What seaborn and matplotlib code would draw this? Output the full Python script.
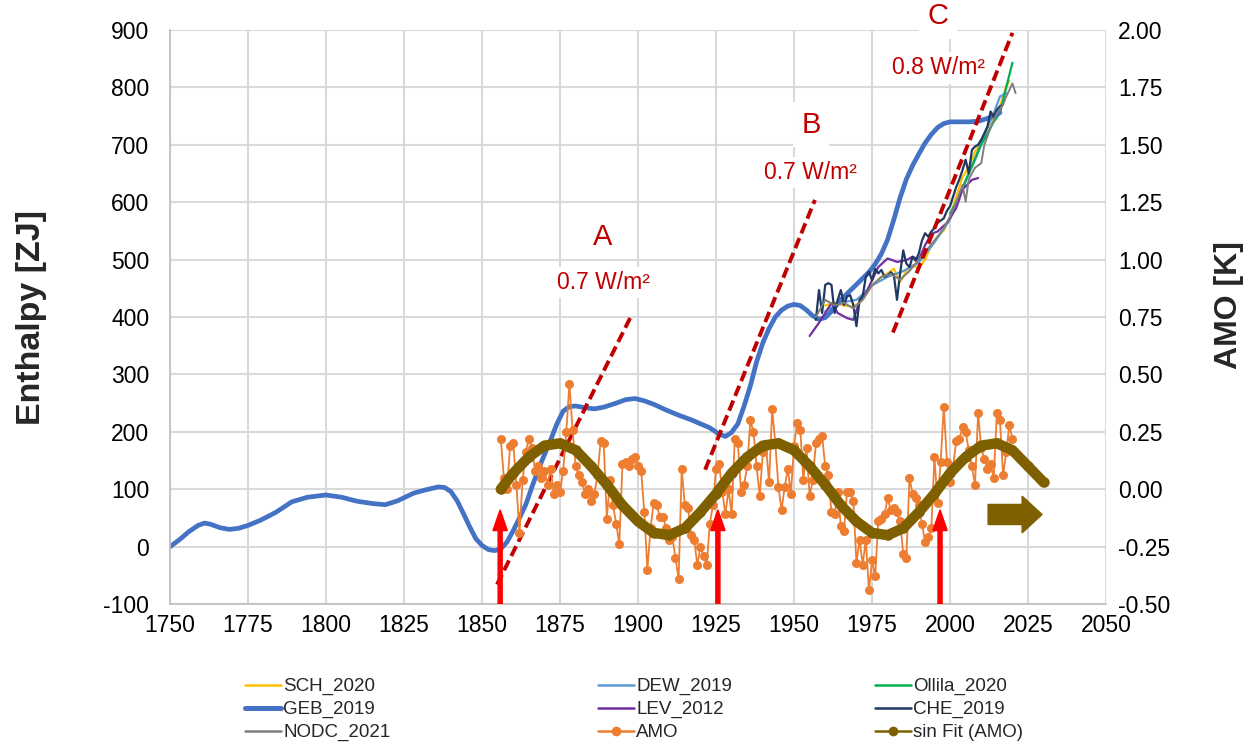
import numpy as np
import matplotlib
matplotlib.use("Agg")
import matplotlib.pyplot as plt
from matplotlib.lines import Line2D
from matplotlib.patches import FancyArrow
import seaborn as sns

# ---- data ----
GEB_YEAR = [1750, 1753, 1756, 1759, 1761, 1763, 1766, 1769, 1772, 1775, 1779, 1784, 1789,
            1794, 1800, 1805, 1810, 1815, 1819, 1823, 1828, 1832, 1836, 1838, 1840, 1842,
            1844, 1846, 1848, 1850, 1852, 1854, 1856, 1858, 1860, 1862, 1864, 1866, 1868,
            1870, 1872, 1874, 1876, 1878, 1880, 1883, 1886, 1889, 1893, 1896, 1899, 1902,
            1905, 1909, 1913, 1917, 1920, 1923, 1926, 1928, 1930, 1932, 1934, 1936, 1938,
            1940, 1942, 1944, 1946, 1948, 1950, 1952, 1954, 1956, 1958, 1960, 1962, 1965,
            1968, 1971, 1974, 1976, 1978, 1980, 1982, 1984, 1986, 1988, 1990, 1992, 1994,
            1996, 1998, 2000, 2003, 2006, 2009, 2012, 2014, 2016]
GEB_ZJ = [0, 12, 26, 37, 41, 39, 33, 30, 32, 37, 46, 60, 78,
          86, 90, 86, 79, 75, 73, 80, 93, 99, 104, 103, 96, 80,
          58, 35, 14, 2, -5, -7, -4, 8, 28, 50, 73, 104, 134,
          160, 186, 214, 236, 244, 245, 242, 240, 243, 250, 256, 258, 254,
          248, 238, 229, 221, 214, 207, 196, 192, 199, 214, 245, 280, 322,
          355, 380, 400, 412, 419, 422, 420, 412, 402, 396, 399, 410, 430,
          446, 462, 478, 492, 510, 535, 570, 608, 640, 664, 684, 703, 718,
          730, 737, 740, 740, 740, 741, 746, 750, 756]

SCH_YEAR = [1960, 1963, 1966, 1969, 1972, 1975, 1978, 1980, 1982, 1984, 1986, 1988, 1990,
            1992, 1994, 1996, 1998, 2000, 2002, 2004, 2006, 2008, 2010, 2012, 2014, 2016,
            2018, 2019]
SCH_ZJ = [420, 425, 420, 418, 430, 455, 470, 476, 484, 461, 480, 490, 485, 500, 525, 540,
          551, 575, 610, 644, 660, 688, 705, 730, 750, 767, 802, 811]

DEW_YEAR = [1960, 1965, 1970, 1975, 1980, 1985, 1990, 1995, 2000, 2003, 2006, 2009, 2012,
            2014, 2016, 2018]
DEW_ZJ = [410, 425, 430, 455, 470, 480, 495, 530, 570, 610, 650, 690, 730, 755, 784, 790]

OLLILA_YEAR = [2000, 2002, 2004, 2006, 2008, 2010, 2012, 2014, 2016, 2018, 2020]
OLLILA_ZJ = [580, 600, 625, 650, 674, 700, 720, 740, 755, 800, 843]

LEV_YEAR = [1955, 1958, 1960, 1962, 1964, 1967, 1969, 1971, 1973, 1975, 1977, 1980, 1983,
            1986, 1988, 1990, 1992, 1994, 1996, 1999, 2002, 2004, 2007, 2009]
LEV_ZJ = [367, 390, 407, 424, 407, 398, 395, 427, 441, 464, 487, 502, 496, 499, 505, 500,
          525, 545, 549, 564, 590, 622, 639, 642]

CHE_YEAR = list(range(1957, 2018))
CHE_ZJ = [395, 447, 407,
          456, 459, 456, 407, 430, 447, 421, 436, 438, 421,
          384, 430, 436, 470, 479, 464, 484, 476, 482, 470,
          473, 478, 473, 430, 476, 516, 493, 487, 505, 498,
          511, 533, 546, 540, 549, 555, 564, 568, 572, 585,
          593, 610, 627, 640, 656, 674, 650, 691, 697, 700,
          709, 720, 732, 758, 749, 761, 767, 770]

NODC_YEAR = [1957, 1960, 1963, 1966, 1969, 1972, 1975, 1978, 1981, 1984, 1987, 1990, 1993,
             1996, 1998, 2000, 2002, 2004, 2005, 2006, 2008, 2010, 2011, 2013, 2015, 2017,
             2018, 2019, 2020, 2021]
NODC_ZJ = [400, 430, 420, 425, 415, 430, 455, 470, 475, 465, 480, 500, 520, 540, 555, 575,
           600, 630, 601, 640, 660, 668, 700, 730, 755, 770, 784, 795, 807, 790]

AMO_YEAR = list(range(1856, 2021))
AMO_K = [0.22, 0.05, 0.00, 0.19,
         0.20, 0.02, -0.19, 0.04, 0.16, 0.22, 0.18, 0.08, 0.10, 0.05,
         0.08, 0.02, 0.09, -0.02, 0.02, -0.01, 0.08, 0.25, 0.46, 0.26,
         0.10, 0.06, 0.03, -0.02, 0.00, -0.05, -0.02, 0.06, 0.21, 0.20,
         -0.13, 0.04, -0.07, -0.15, -0.24, 0.11, 0.12, 0.10, 0.13, 0.14,
         0.10, 0.08, -0.10, -0.35, -0.17, -0.06, -0.07, -0.12, -0.12, -0.17,
         -0.22, -0.21, -0.30, -0.39, 0.09, -0.07, -0.08, -0.20, -0.22, -0.33,
         -0.25, -0.29, -0.33, -0.15, -0.07, 0.09, 0.11, -0.01, -0.11, 0.00,
         -0.11, 0.22, 0.20, -0.01, 0.02, 0.10, 0.30, 0.25, 0.10, -0.03,
         0.16, 0.19, 0.03, 0.35, 0.20, 0.01, -0.09, 0.01, 0.09, -0.02,
         0.19, 0.29, 0.26, 0.04, 0.18, -0.03, 0.04, 0.20, 0.22, 0.23,
         0.10, 0.06, -0.10, -0.11, -0.01, -0.16, -0.18, -0.01, -0.01, -0.05,
         -0.32, -0.22, -0.33, -0.22, -0.44, -0.31, -0.38, -0.14, -0.13, -0.11,
         -0.04, -0.09, -0.08, -0.10, -0.14, -0.28, -0.30, 0.05, -0.02, -0.04,
         -0.07, -0.15, -0.23, -0.21, -0.17, 0.14, -0.06, 0.12, 0.36, 0.12,
         0.03, 0.10, 0.21, 0.22, 0.27, 0.25, 0.17, 0.10, 0.02, 0.33,
         0.18, 0.13, 0.09, 0.11, 0.05, 0.33, 0.30, 0.06, 0.16, 0.28, 0.22]

SIN_YEAR = [1856, 1860, 1865, 1870, 1875, 1880, 1885, 1890, 1895, 1900, 1905, 1910, 1915,
            1920, 1925, 1930, 1935, 1940, 1945, 1950, 1955, 1960, 1965, 1970, 1975, 1980,
            1985, 1990, 1995, 2000, 2005, 2010, 2015, 2020, 2025, 2030]
SIN_K = [0.00, 0.07, 0.14, 0.19, 0.20, 0.17, 0.10, 0.02, -0.07, -0.14, -0.19, -0.20,
         -0.17, -0.10, -0.02, 0.07, 0.14, 0.19, 0.20, 0.17, 0.10, 0.02, -0.07, -0.14,
         -0.19, -0.20, -0.17, -0.10, -0.02, 0.07, 0.14, 0.19, 0.20, 0.17, 0.10, 0.03]

# heating-rate trend lines (start / end)
TREND_A = ([1854.8, 1898.0], [-66, 404])
TREND_B = ([1921.5, 1956.7], [134, 604])
TREND_C = ([1981.7, 2020.0], [373, 895])
TREND_LABELS = [("A", "0.7 W/m²", 1888.8, 540, 460),
                ("B", "0.7 W/m²", 1955.4, 735, 652),
                ("C", "0.8 W/m²", 1996.2, 924, 834)]
ARROW_YEARS = [1855.8, 1925.6, 1996.8]

DARK_RED = "#C00000"
SIN_COL = "#7F6000"
AMO_COL = "#ED7D31"

sns.set_theme(style="white")
plt.rcParams["font.family"] = ["Liberation Sans", "DejaVu Sans"]
plt.rcParams["axes.unicode_minus"] = False

fig = plt.figure(figsize=(12.55, 7.46), dpi=100)
ax = fig.add_axes([0.1355, 0.1903, 0.7458, 0.7695])
ax2 = ax.twinx()

# enthalpy series (left axis)
series = [
    (SCH_YEAR, SCH_ZJ, "#FFC000", 1.6),
    (DEW_YEAR, DEW_ZJ, "#5B9BD5", 1.6),
    (OLLILA_YEAR, OLLILA_ZJ, "#00B050", 1.6),
    (GEB_YEAR, GEB_ZJ, "#4472C4", 3.4),
    (LEV_YEAR, LEV_ZJ, "#7030A0", 1.6),
    (CHE_YEAR, CHE_ZJ, "#203864", 1.6),
    (NODC_YEAR, NODC_ZJ, "#7F7F7F", 1.4),
]
for xs, ys, col, lw in series:
    sns.lineplot(x=xs, y=ys, color=col, linewidth=lw, ax=ax, sort=False,
                 solid_capstyle="round", solid_joinstyle="round")

for xs, ys in (TREND_A, TREND_B, TREND_C):
    ax.plot(xs, ys, color=DARK_RED, linewidth=2.8, dashes=(2.8, 1.3))

for big, small, x, y_big, y_small in TREND_LABELS:
    ax.text(x, y_big, big, color=DARK_RED, fontsize=21, ha="center", va="center",
            bbox=dict(facecolor="white", edgecolor="none", pad=6), zorder=6)
    ax.text(x, y_small, small, color=DARK_RED, fontsize=16.5, ha="center", va="center",
            bbox=dict(facecolor="white", edgecolor="none", pad=3), zorder=6)

# AMO (right axis)
sns.lineplot(x=AMO_YEAR, y=AMO_K, color=AMO_COL, linewidth=1.3, marker="o",
             markersize=6.5, markeredgewidth=0, ax=ax2)
sns.lineplot(x=SIN_YEAR, y=SIN_K, color=SIN_COL, linewidth=7.5, marker="o",
             markersize=7.5, markeredgewidth=0, ax=ax2,
             solid_capstyle="round", solid_joinstyle="round")

for yr in ARROW_YEARS:
    ax2.add_patch(FancyArrow(yr, -100, 0, 164, width=1.3, head_width=4.6,
                             head_length=36, length_includes_head=True,
                             color="#FF0000", transform=ax.transData, zorder=5))
ax2.add_patch(FancyArrow(2012.2, 56, 17.3, 0, width=35, head_width=64,
                         head_length=6.4, length_includes_head=True,
                         color=SIN_COL, transform=ax.transData, zorder=5))

for a in (ax, ax2):
    if a.get_legend() is not None:
        a.get_legend().remove()

ax.set_xlim(1750, 2050)
ax.set_ylim(-100, 900)
ax2.set_ylim(-0.5, 2.0)
ax.set_xticks(np.arange(1750, 2051, 25))
ax.set_yticks(np.arange(-100, 901, 100))
ax2.set_yticks(np.arange(-0.5, 2.01, 0.25))
ax2.set_yticklabels([f"{v:.2f}" for v in np.arange(-0.5, 2.01, 0.25)])

ax.grid(True, color="#D9D9D9", linewidth=1.5)
ax.set_axisbelow(True)
ax2.grid(False)
for a in (ax, ax2):
    for s in a.spines.values():
        s.set_visible(False)
    a.tick_params(length=0, labelsize=16.5, colors="black")
ax.spines["left"].set_visible(True)
ax.spines["left"].set_color("#BFBFBF")
ax.spines["bottom"].set_visible(True)
ax.spines["bottom"].set_color("#BFBFBF")
ax.tick_params(axis="y", pad=15)
ax.tick_params(axis="x", pad=7)
ax2.tick_params(axis="y", pad=8.5)

ax.set_ylabel("Enthalpy [ZJ]", fontsize=24.5, fontweight="bold")
ax.yaxis.set_label_coords(-0.1315, 0.5)
ax2.set_ylabel("AMO [K]", fontsize=23, fontweight="bold")
ax2.yaxis.set_label_coords(1.1155, 0.52)
ax.set_xlabel("")

# legend: three columns placed like the reference
def h(col, lw, marker=None):
    return Line2D([], [], color=col, linewidth=lw, marker=marker, markersize=7,
                  markeredgewidth=0)

columns = [
    ([h("#FFC000", 1.8), h("#4472C4", 3.6), h("#7F7F7F", 1.8)],
     ["SCH_2020", "GEB_2019", "NODC_2021"], 0.1952),
    ([h("#5B9BD5", 1.8), h("#7030A0", 1.8), h(AMO_COL, 1.8, "o")],
     ["DEW_2019", "LEV_2012", "AMO"], 0.4765),
    ([h("#00B050", 1.8), h("#203864", 1.8), h(SIN_COL, 1.8, "o")],
     ["Ollila_2020", "CHE_2019", "sin Fit (AMO)"], 0.6972),
]
for handles, labels, xpos in columns:
    fig.legend(handles, labels, loc="upper left", bbox_to_anchor=(xpos, 0.091),
               frameon=False, fontsize=13.5, handlelength=1.9, handletextpad=0.15,
               labelspacing=0.3, borderpad=0, borderaxespad=0)

fig.savefig("out.png", dpi=100)
